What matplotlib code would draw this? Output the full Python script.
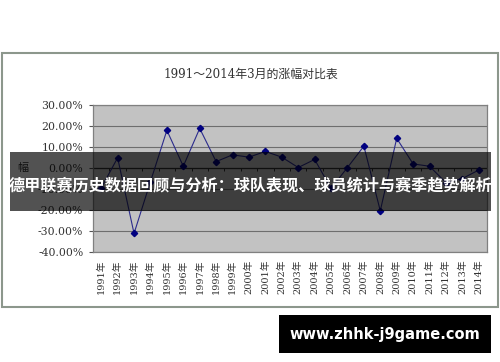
# 1991~2014 March change comparison chart

import matplotlib
matplotlib.use("Agg")
import numpy as np
import matplotlib.pyplot as plt
from matplotlib.patches import Rectangle
from matplotlib.ticker import FuncFormatter

years = [str(y) + "年" for y in range(1991, 2015)]
change = [-9.5, 4.8, -31.0, -6.5, 17.8, 0.8, 18.7, 3.0, 6.2, 5.1, 7.8, 5.1,
          0.2, 4.0, -9.7, 0.2, 10.3, -20.3, 14.0, 1.9, 0.8, -7.0, -5.0, -1.0]
yticks = [-40, -30, -20, -10, 0, 10, 20, 30]

title = "1991～2014年3月的涨幅对比表"
ylab = "幅"
banner = "德甲联赛历史数据回顾与分析：球队表现、球员统计与赛季趋势解析"
site = "www.zhhk-j9game.com"

serif = ["DejaVu Serif", "Noto Sans CJK SC"]
cjk = ["Noto Sans CJK SC", "DejaVu Sans"]

fig = plt.figure(figsize=(5, 3.62), dpi=100)
ax = fig.add_axes([0.186, 0.3025, 0.788, 0.4088])

x = np.arange(len(years))
ax.set_facecolor("#c2c2c2")
for v in yticks:
    ax.axhline(v, color="#6e6e6e", lw=0.8, zorder=1)
ax.axhline(0, color="#303030", lw=0.9, zorder=2)
# category tick marks on the zero line
ax.vlines(np.arange(len(years) + 1) - 0.5, 0, -1.3, color="#303030", lw=0.7, zorder=2)

ax.plot(x, change, color="#2b2b8c", lw=0.8, marker="D", markersize=3.2,
        markerfacecolor="#000080", markeredgecolor="#000080", zorder=3)

ax.set_xlim(-0.5, len(years) - 0.5)
ax.set_ylim(-40, 30)
ax.set_yticks(yticks)
ax.yaxis.set_major_formatter(FuncFormatter(lambda v, p: f"{v:.2f}%"))
ax.set_xticks(x)
ax.set_xticklabels(years, rotation=90, family=serif, fontsize=7, color="#333333")
for lab in ax.get_yticklabels():
    lab.set_family(serif)
    lab.set_fontsize(7.8)
    lab.set_color("#333333")
ax.tick_params(axis="x", length=0, pad=5)
ax.tick_params(axis="y", length=3, pad=4, color="#555555")
for s in ax.spines.values():
    s.set_color("#808080")
    s.set_linewidth(0.9)

fig.text(0.502, 1 - 74 / 362, title, ha="center", va="center",
         family=serif, fontsize=8.6, color="#333333")
fig.text(23 / 500, 1 - 168 / 362, ylab, ha="center", va="center",
         family=cjk, fontsize=8, color="#333333")

# outer chart frame
fig.patches.append(Rectangle((0.003, 0.152), 0.993, 0.7017, transform=fig.transFigure,
                             fill=False, edgecolor="#8c978c", lw=1.5))

# dark banner across the chart
fig.patches.append(Rectangle((10 / 500, 1 - 211 / 362), 481 / 500, 59 / 362,
                             transform=fig.transFigure, facecolor="black",
                             alpha=0.68, zorder=10))
fig.text(0.501, 1 - 185 / 362, banner, ha="center", va="center", family=cjk,
         fontsize=11.6, fontweight="bold", color="white", zorder=11)

# site watermark
fig.patches.append(Rectangle((279 / 500, 1 - 353 / 362), 212 / 500, 38 / 362,
                             transform=fig.transFigure, facecolor="black", zorder=10))
fig.text(385 / 500, 1 - 334 / 362, site, ha="center", va="center",
         family="DejaVu Sans", fontsize=10.5, fontweight="bold", color="white", zorder=11)

fig.savefig("out.png", dpi=100)
